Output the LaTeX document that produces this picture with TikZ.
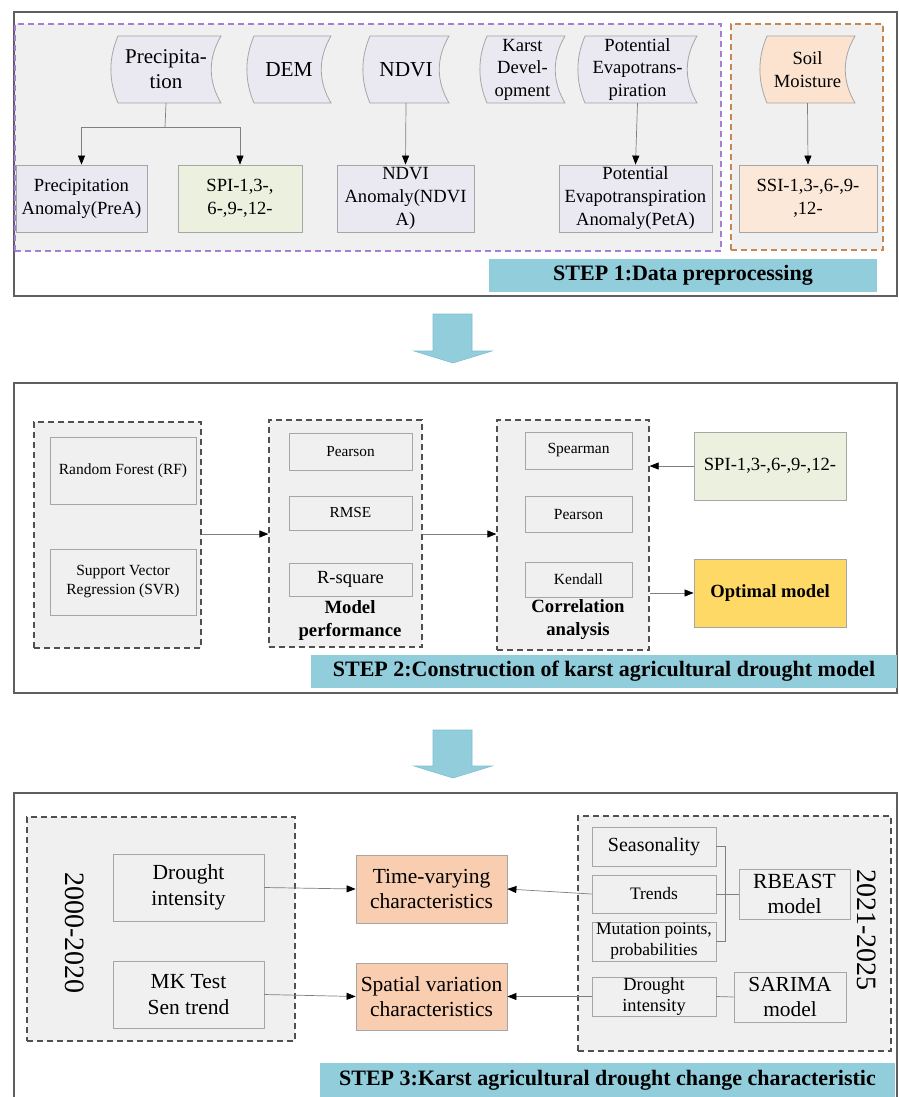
\documentclass[tikz,border=0pt]{standalone}
\usepackage{fontspec}
\setmainfont{Liberation Serif}
\usetikzlibrary{arrows.meta,calc}
\definecolor{outerc}{HTML}{5F5F5F}
\definecolor{boxc}{HTML}{A6A6A6}
\definecolor{connc}{HTML}{7F7F7F}
\definecolor{dashc}{HTML}{505050}
\definecolor{purp}{HTML}{A47FD6}
\definecolor{orng}{HTML}{C88650}
\definecolor{grayf}{HTML}{F0F0F0}
\definecolor{lav}{HTML}{EAE8F1}
\definecolor{grn}{HTML}{EBF1DE}
\definecolor{peachl}{HTML}{FCE8D9}
\definecolor{peachs}{HTML}{FBE3D0}
\definecolor{peach}{HTML}{F8CDB0}
\definecolor{gold}{HTML}{FFD966}
\definecolor{bann}{HTML}{92CDDC}
\definecolor{bannb}{HTML}{7FBFD0}
\newcommand{\fs}[2]{\fontsize{#1}{#2}\selectfont}
\newcommand{\bx}[7]{\node[#6, minimum width={#4-#2}, minimum height={#5-#3}] (#1) at ({(#2+#4)/2},{(#3+#5)/2}) {#7};}
\newcommand{\docs}[8]{%
  \path[draw=boxc, line width=0.8pt, fill=#6] (#2+7,#3) -- (#4,#3) .. controls (#4-13,#3+22) and (#4-13,#5-22) .. (#4,#5) -- (#2+7,#5) .. controls (#2-2.5,#5-22) and (#2-2.5,#3+22) .. cycle;
  \node[inner sep=0, minimum width={#4-#2}, minimum height={#5-#3}, align=center, font=#7] (#1) at ({(#2+#4)/2},{(#3+#5)/2}) {#8};}
\tikzset{
  box/.style={draw=boxc, line width=0.8pt, inner sep=0pt, align=center},
  cont/.style={draw=dashc, line width=1.2pt, dash pattern=on 6pt off 4pt, fill=grayf, inner sep=0pt},
  conn/.style={draw=connc, line width=0.7pt},
  arr/.style={conn, -{Triangle[length=9pt,width=7pt,color=black]}},
  banner/.style={fill=bann, draw=none, inner sep=0pt, font=\bfseries\fs{22}{26}},
  bigarrow/.style={fill=bann, draw=bannb, line width=0.6pt},
  outer/.style={draw=outerc, line width=1.6pt}
}
\begin{document}
\begin{tikzpicture}[x=1pt,y=-1pt]
\useasboundingbox (0,0) rectangle (899,1097);
\fill[white] (0,0) rectangle (899,1097);

% ================= STEP 1 =================
\draw[outer] (14,12) rectangle (897,296);
\bx{g1}{15}{24}{721}{251}{cont, draw=purp}{}
\bx{g2}{731}{24}{883}{250}{cont, draw=orng}{}

\docs{prec}{111}{36}{221}{103}{lav}{\fs{21}{25}}{Precipita-\\tion}
\docs{dem}{247}{36}{331}{103}{lav}{\fs{21.3}{25}}{DEM}
\docs{ndvi}{363}{36}{449}{103}{lav}{\fs{21.3}{25}}{NDVI}
\docs{karst}{480}{36}{565}{103}{lav}{\fs{18.6}{22.5}}{Karst\\Devel-\\opment}
\docs{pet}{578}{36}{697}{103}{lav}{\fs{18.6}{22.5}}{Potential\\Evapotrans-\\piration}
\docs{soil}{760}{36}{855}{103}{peachs}{\fs{18.6}{23}}{Soil\\Moisture}

\bx{prea}{16}{165}{147}{232}{box, fill=lav, font=\fs{18.6}{23}}{Precipitation\\Anomaly(PreA)}
\bx{spi}{178}{165}{302}{232}{box, fill=grn, font=\fs{18.6}{23}}{SPI-1,3-,\\6-,9-,12-}
\bx{ndvia}{337}{165}{474}{232}{box, fill=lav, font=\fs{18.6}{23}}{NDVI\\Anomaly(NDVI\\A)}
\bx{peta}{559}{165}{712}{232}{box, fill=lav, font=\fs{18.6}{23}}{Potential\\Evapotranspiration\\Anomaly(PetA)}
\bx{ssi}{739}{165}{877}{232}{box, fill=peachl, font=\fs{18.6}{23}}{SSI-1,3-,6-,9-\\,12-}

\coordinate (pbr) at (165,127);
\draw[conn] (prec.south) -- (pbr);
\draw[arr] (pbr) -| (prea.north);
\draw[arr] (pbr) -| (spi.north);
\draw[arr] (ndvi.south) -- (ndvia.north);
\draw[arr] (pet.south) -- (peta.north);
\draw[arr] (soil.south) -- (ssi.north);

\bx{b1}{489}{259}{877}{292}{banner}{STEP 1:Data preprocessing}

% big arrow 1
\path[bigarrow] (433,314) -- (472,314) -- (472,351) -- (492,351) -- (453,363) -- (414,351) -- (433,351) -- cycle;

% ================= STEP 2 =================
\draw[outer] (14,383) rectangle (897,693);
\bx{d1}{34}{422}{201}{648}{cont}{}
\bx{d2}{269}{420}{422}{647}{cont}{}
\bx{d3}{497}{420}{649}{650}{cont}{}

\bx{rf}{50}{437}{196}{504}{box, font=\fs{15.5}{19}}{Random Forest (RF)}
\bx{svr}{50}{549}{196}{615}{box, font=\fs{15.5}{19}}{Support Vector\\Regression (SVR)}

\bx{pe1}{289}{433}{412}{470}{box, font=\fs{15.3}{19}}{Pearson}
\bx{rmse}{289}{496}{412}{530}{box, font=\fs{15.3}{19}}{RMSE}
\bx{rsq}{289}{563}{412}{596}{box, font=\fs{18.5}{22}}{R-square}
\node[align=center, inner sep=0pt, font=\bfseries\fs{18.7}{23}] (mp) at (350,620) {Model\\performance};

\bx{spe}{525}{432}{632}{469}{box, font=\fs{15.5}{19}}{Spearman}
\bx{pe2}{525}{496}{632}{532}{box, font=\fs{15.5}{19}}{Pearson}
\bx{ken}{525}{562}{632}{597}{box, font=\fs{15.5}{19}}{Kendall}
\node[align=center, inner sep=0pt, font=\bfseries\fs{18.7}{23}] (ca) at (578,620) {Correlation\\analysis};

\bx{spi2}{694}{432}{846}{500}{box, fill=grn, font=\fs{18.6}{22}}{SPI-1,3-,6-,9-,12-}
\bx{opt}{694}{559}{846}{627}{box, fill=gold, font=\bfseries\fs{18.6}{22}}{Optimal model}

\draw[arr] (d1.east |- 0,534) -- (d2.west |- 0,534);
\draw[arr] (d2.east |- 0,534) -- (d3.west |- 0,534);
\draw[arr] (spi2.west) -- (spi2.west -| d3.east);
\draw[arr] (opt.west -| d3.east) -- (opt.west);

\bx{b2}{311}{655}{897}{688}{banner}{STEP 2:Construction of karst agricultural drought model}

% big arrow 2
\path[bigarrow] (433,730) -- (472,730) -- (472,766) -- (492,766) -- (453,778) -- (414,766) -- (433,766) -- cycle;

% ================= STEP 3 =================
\draw[outer] (14,1100) -- (14,793) -- (897,793) -- (897,1100);
\bx{l3}{27}{817}{295}{1041}{cont}{}
\bx{r3}{578}{816}{891}{1051}{cont}{}

\node[rotate=-90, inner sep=0pt, font=\fs{28}{30}] (y1) at (75,933) {2000-2020};
\node[rotate=-90, inner sep=0pt, font=\fs{28}{30}] (y2) at (867,930) {2021-2025};

\bx{di}{113}{854}{264}{921}{box, font=\fs{21.5}{26.5}}{Drought\\intensity}
\bx{mk}{113}{961}{264}{1028}{box, font=\fs{21.5}{26.5}}{MK Test\\Sen trend}

\bx{tv}{356}{855}{507}{923}{box, fill=peach, font=\fs{21.5}{24.5}}{Time-varying\\characteristics}
\bx{sv}{356}{963}{507}{1030}{box, fill=peach, font=\fs{21.5}{24.5}}{Spatial variation\\characteristics}

\bx{seas}{592}{827}{716}{866}{box, font=\fs{20}{22}}{Seasonality}
\bx{tr}{592}{875}{716}{913}{box, font=\fs{17.5}{20}}{Trends}
\bx{mut}{592}{922}{716}{961}{box, font=\fs{17.5}{21}}{Mutation points,\\probabilities}
\bx{di2}{592}{977}{716}{1016}{box, font=\fs{18.4}{21.7}}{Drought\\intensity}

\bx{rb}{739}{869}{850}{919}{box, font=\fs{21.6}{25}}{RBEAST\\model}
\bx{sa}{734}{972}{846}{1022}{box, font=\fs{21.4}{25}}{SARIMA\\model}

\draw[conn] (seas.east) -- ++(9,0) |- (mut.east);
\draw[conn] (tr.east) -- (rb.west);
\draw[conn] (di2.east) -- (sa.west);

\draw[arr] (di.east) -- (tv.west);
\draw[arr] (mk.east) -- (sv.west);
\draw[arr] (tr.west) -- (tv.east);
\draw[arr] (di2.west) -- (sv.east);

\bx{b3}{320}{1063}{895}{1097}{banner}{STEP 3:Karst agricultural drought change characteristic}
\end{tikzpicture}
\end{document}
